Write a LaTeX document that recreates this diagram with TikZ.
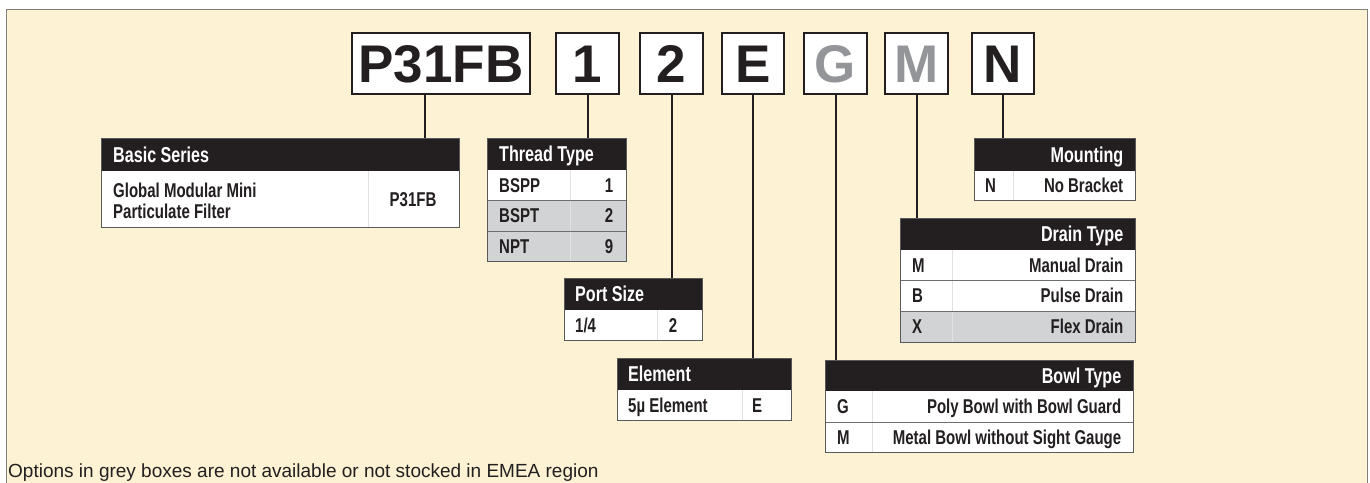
\documentclass[tikz,border=0pt]{standalone}
\usepackage{fontspec}
\setmainfont{Liberation Sans}
\newfontfamily\condfont[FakeStretch=0.75]{Liberation Sans}
\definecolor{panelbg}{HTML}{FEF2D5}
\definecolor{panelline}{HTML}{808080}
\definecolor{inkblack}{HTML}{231F20}
\definecolor{codegrey}{HTML}{939598}
\definecolor{greyfill}{HTML}{D1D3D4}
\definecolor{frameline}{HTML}{58595B}
\definecolor{sepline}{HTML}{6D6E71}
\definecolor{divline}{HTML}{E2E2E3}
\newcommand\myCodeFont{\fontsize{53}{60}\selectfont\bfseries}
\newcommand\myHdrFont{\condfont\bfseries\fontsize{21.5}{25}\selectfont}
\newcommand\myBodyFont{\condfont\bfseries\fontsize{20}{23}\selectfont}
\newcommand\myFootFont{\fontsize{19}{22}\selectfont}
\tikzset{
  panel/.style={fill=panelbg, draw=panelline, line width=1pt},
  codebox/.style={draw=inkblack, line width=2pt, fill=white, minimum height=61pt, inner sep=0pt, text height=37.9pt, text depth=0pt, font=\myCodeFont, text=inkblack},
  greycode/.style={codebox, text=codegrey},
  hdr/.style={fill=inkblack, inner sep=0pt, anchor=north west},
  whiterow/.style={fill=white, inner sep=0pt, anchor=north west},
  greyrow/.style={fill=greyfill, inner sep=0pt, anchor=north west},
  hdrtext/.style={font=\myHdrFont, text=white, inner sep=0pt, text height=15.4pt, text depth=0pt},
  bodytext/.style={font=\myBodyFont, text=inkblack, inner sep=0pt, text height=14.3pt, text depth=0pt},
  tblframe/.style={draw=frameline, line width=1pt},
  rowsep/.style={draw=sepline, line width=1.3pt},
  coldiv/.style={draw=divline, line width=0.5pt},
  conn/.style={draw=inkblack, line width=2pt},
}
\begin{document}
\begin{tikzpicture}[x=1pt,y=-1pt]
\useasboundingbox (0,0) rectangle (1370,482);
\draw[panel] (6,9) rectangle (1367,495);

% code boxes
\node[codebox, minimum width=178pt] (cP) at (441,63.5) {P31FB};
\node[codebox, minimum width=63pt] (c1) at (587.5,63.5) {1};
\node[codebox, minimum width=63pt] (c2) at (671.5,63.5) {2};
\node[codebox, minimum width=62pt] (cE) at (753,63.5) {E};
\node[greycode, minimum width=63pt] (cG) at (835.5,63.5) {G};
\node[greycode, minimum width=63pt] (cM) at (916.5,63.5) {M};
\node[codebox, minimum width=62pt] (cN) at (1003,63.5) {N};

% Basic Series
\node[hdr, minimum width=358pt, minimum height=33pt] (hBS) at (101,138) {};
\node[whiterow, minimum width=358pt, minimum height=56pt] (rBS) at (101,171) {};
\draw[coldiv] (368,171) -- (368,227);
\draw[tblframe] (hBS.north west) rectangle (rBS.south east);
\node[hdrtext, anchor=west] (tBS) at ([xshift=12pt]hBS.west) {Basic Series};
\node[bodytext, anchor=base west] (tBSa) at (113,197) {Global Modular Mini};
\node[bodytext, anchor=base west] (tBSb) at (113,218.5) {Particulate Filter};
\node[bodytext, anchor=base] (vBS) at (413,206.5) {P31FB};

% Thread Type
\node[hdr, minimum width=139pt, minimum height=32pt] (hTT) at (487,138) {};
\node[whiterow, minimum width=139pt, minimum height=30pt] (rTTa) at (487,170) {};
\node[greyrow, minimum width=139pt, minimum height=31pt] (rTTb) at (487,200) {};
\node[greyrow, minimum width=139pt, minimum height=30pt] (rTTc) at (487,231) {};
\draw[coldiv] (570,170) -- (570,261);
\draw[rowsep] (rTTa.south west) -- (rTTa.south east);
\draw[rowsep] (rTTb.south west) -- (rTTb.south east);
\draw[tblframe] (hTT.north west) rectangle (rTTc.south east);
\node[hdrtext, anchor=west] (tTT) at ([xshift=12pt]hTT.west) {Thread Type};
\node[bodytext, anchor=west] (tTTa) at ([xshift=12pt]rTTa.west) {BSPP};
\node[bodytext, anchor=east] (vTTa) at ([xshift=-13pt]rTTa.east) {1};
\node[bodytext, anchor=west] (tTTb) at ([xshift=12pt]rTTb.west) {BSPT};
\node[bodytext, anchor=east] (vTTb) at ([xshift=-13pt]rTTb.east) {2};
\node[bodytext, anchor=west] (tTTc) at ([xshift=12pt]rTTc.west) {NPT};
\node[bodytext, anchor=east] (vTTc) at ([xshift=-13pt]rTTc.east) {9};

% Port Size
\node[hdr, minimum width=138pt, minimum height=32pt] (hPS) at (564,278) {};
\node[whiterow, minimum width=138pt, minimum height=30pt] (rPS) at (564,310) {};
\draw[coldiv] (657,310) -- (657,340);
\draw[tblframe] (hPS.north west) rectangle (rPS.south east);
\node[hdrtext, anchor=west] (tPS) at ([xshift=11pt]hPS.west) {Port Size};
\node[bodytext, anchor=west] (tPSa) at ([xshift=11pt]rPS.west) {1/4};
\node[bodytext] (vPS) at (673,325) {2};

% Element
\node[hdr, minimum width=174pt, minimum height=32pt] (hEL) at (617,358) {};
\node[whiterow, minimum width=174pt, minimum height=30pt] (rEL) at (617,390) {};
\draw[coldiv] (742,390) -- (742,420);
\draw[tblframe] (hEL.north west) rectangle (rEL.south east);
\node[hdrtext, anchor=west] (tEL) at ([xshift=11pt]hEL.west) {Element};
\node[bodytext, anchor=west] (tELa) at ([xshift=11pt]rEL.west) {5µ Element};
\node[bodytext] (vEL) at (757,405) {E};

% Mounting
\node[hdr, minimum width=161pt, minimum height=33pt] (hMO) at (974,138) {};
\node[whiterow, minimum width=161pt, minimum height=29pt] (rMO) at (974,171) {};
\draw[coldiv] (1013,171) -- (1013,200);
\draw[tblframe] (hMO.north west) rectangle (rMO.south east);
\node[hdrtext, anchor=east] (tMO) at ([xshift=-12pt]hMO.east) {Mounting};
\node[bodytext, anchor=west] (tMOa) at ([xshift=11pt]rMO.west) {N};
\node[bodytext, anchor=east] (vMOa) at ([xshift=-12pt]rMO.east) {No Bracket};

% Drain Type
\node[hdr, minimum width=235pt, minimum height=32pt] (hDT) at (900,218) {};
\node[whiterow, minimum width=235pt, minimum height=30pt] (rDTa) at (900,250) {};
\node[whiterow, minimum width=235pt, minimum height=31pt] (rDTb) at (900,280) {};
\node[greyrow, minimum width=235pt, minimum height=31pt] (rDTc) at (900,311) {};
\draw[coldiv] (952,250) -- (952,342);
\draw[rowsep] (rDTa.south west) -- (rDTa.south east);
\draw[rowsep] (rDTb.south west) -- (rDTb.south east);
\draw[tblframe] (hDT.north west) rectangle (rDTc.south east);
\node[hdrtext, anchor=east] (tDT) at ([xshift=-12pt]hDT.east) {Drain Type};
\node[bodytext, anchor=west] (tDTa) at ([xshift=12pt]rDTa.west) {M};
\node[bodytext, anchor=east] (vDTa) at ([xshift=-12pt]rDTa.east) {Manual Drain};
\node[bodytext, anchor=west] (tDTb) at ([xshift=12pt]rDTb.west) {B};
\node[bodytext, anchor=east] (vDTb) at ([xshift=-12pt]rDTb.east) {Pulse Drain};
\node[bodytext, anchor=west] (tDTc) at ([xshift=12pt]rDTc.west) {X};
\node[bodytext, anchor=east] (vDTc) at ([xshift=-12pt]rDTc.east) {Flex Drain};

% Bowl Type
\node[hdr, minimum width=308pt, minimum height=31pt] (hBT) at (825,360) {};
\node[whiterow, minimum width=308pt, minimum height=31pt] (rBTa) at (825,391) {};
\node[whiterow, minimum width=308pt, minimum height=30pt] (rBTb) at (825,422) {};
\draw[coldiv] (872,391) -- (872,452);
\draw[rowsep] (rBTa.south west) -- (rBTa.south east);
\draw[tblframe] (hBT.north west) rectangle (rBTb.south east);
\node[hdrtext, anchor=east] (tBT) at ([xshift=-12pt]hBT.east) {Bowl Type};
\node[bodytext, anchor=west] (tBTa) at ([xshift=12pt]rBTa.west) {G};
\node[bodytext, anchor=east] (vBTa) at ([xshift=-12pt]rBTa.east) {Poly Bowl with Bowl Guard};
\node[bodytext, anchor=west] (tBTb) at ([xshift=12pt]rBTb.west) {M};
\node[bodytext, anchor=east] (vBTb) at ([xshift=-12pt]rBTb.east) {Metal Bowl without Sight Gauge};

% connectors
\draw[conn] ([xshift=-16pt]cP.south) -- ([xshift=-16pt]cP.south |- hBS.north);
\draw[conn] (c1.south) -- (c1.south |- hTT.north);
\draw[conn] (c2.south) -- (c2.south |- hPS.north);
\draw[conn] (cE.south) -- (cE.south |- hEL.north);
\draw[conn] (cG.south) -- (cG.south |- hBT.north);
\draw[conn] (cM.south) -- (cM.south |- hDT.north);
\draw[conn] (cN.south) -- (cN.south |- hMO.north);

% footer
\node[font=\myFootFont, text=inkblack, anchor=base west, inner sep=0pt] (foot) at (8,477) {Options in grey boxes are not available or not stocked in EMEA region};
\end{tikzpicture}
\end{document}
